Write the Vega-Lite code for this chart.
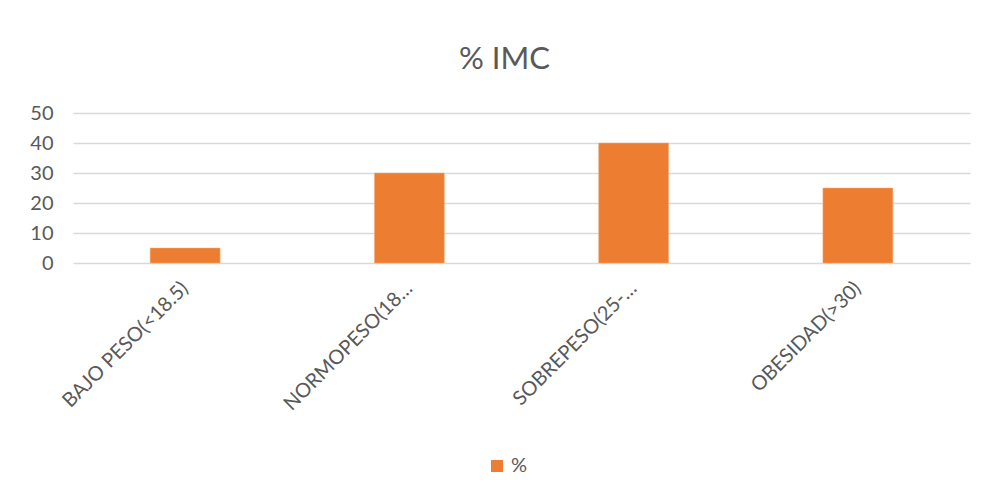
{
  "$schema": "https://vega.github.io/schema/vega-lite/v6.json",
  "autosize": {"type": "none"},
  "width": 897,
  "height": 150,
  "padding": {"left": 73, "top": 113, "right": 14, "bottom": 233},
  "background": "white",
  "title": {
    "text": "% IMC",
    "fontSize": 31,
    "font": "Lato",
    "fontWeight": "normal",
    "color": "#595959",
    "anchor": "middle",
    "dx": -17,
    "offset": 27
  },
  "data": {
    "values": [
      {"categoria": "BAJO PESO(<18.5)", "serie": "%", "valor": 5},
      {"categoria": "NORMOPESO(18.5-24.9)", "serie": "%", "valor": 30},
      {"categoria": "SOBREPESO(25-29.9)", "serie": "%", "valor": 40},
      {"categoria": "OBESIDAD(>30)", "serie": "%", "valor": 25}
    ]
  },
  "mark": {"type": "bar", "stroke": "#F4B183", "strokeWidth": 0.5},
  "encoding": {
    "x": {
      "field": "categoria",
      "type": "nominal",
      "sort": null,
      "scale": {"paddingInner": 0.688, "paddingOuter": 0.344},
      "axis": {
        "title": null,
        "labelAngle": -45,
        "labelAlign": "right",
        "labelBaseline": "middle",
        "labelPadding": 22,
        "labelFontSize": 20,
        "labelFont": "Lato",
        "labelColor": "#595959",
        "labelLimit": 0,
        "labelExpr": "datum.label == 'NORMOPESO(18.5-24.9)' ? 'NORMOPESO(18…' : datum.label == 'SOBREPESO(25-29.9)' ? 'SOBREPESO(25-…' : datum.label",
        "ticks": false,
        "domain": false,
        "grid": false
      }
    },
    "y": {
      "field": "valor",
      "type": "quantitative",
      "scale": {"domain": [0, 50], "nice": false},
      "axis": {
        "title": null,
        "values": [0, 10, 20, 30, 40, 50],
        "labelFontSize": 20,
        "labelFont": "Lato",
        "labelColor": "#595959",
        "labelPadding": 20,
        "ticks": false,
        "domain": false,
        "grid": true,
        "gridColor": "#D9D9D9",
        "gridWidth": 1.5
      }
    },
    "color": {
      "field": "serie",
      "type": "nominal",
      "scale": {"range": ["#ED7D31"]},
      "legend": {
        "title": null,
        "orient": "none",
        "legendX": 414,
        "legendY": 343,
        "symbolType": "square",
        "symbolSize": 144,
        "symbolStrokeWidth": 0,
        "labelFontSize": 20,
        "labelFont": "Lato",
        "labelColor": "#595959"
      }
    }
  },
  "config": {
    "view": {"stroke": null}
  }
}
